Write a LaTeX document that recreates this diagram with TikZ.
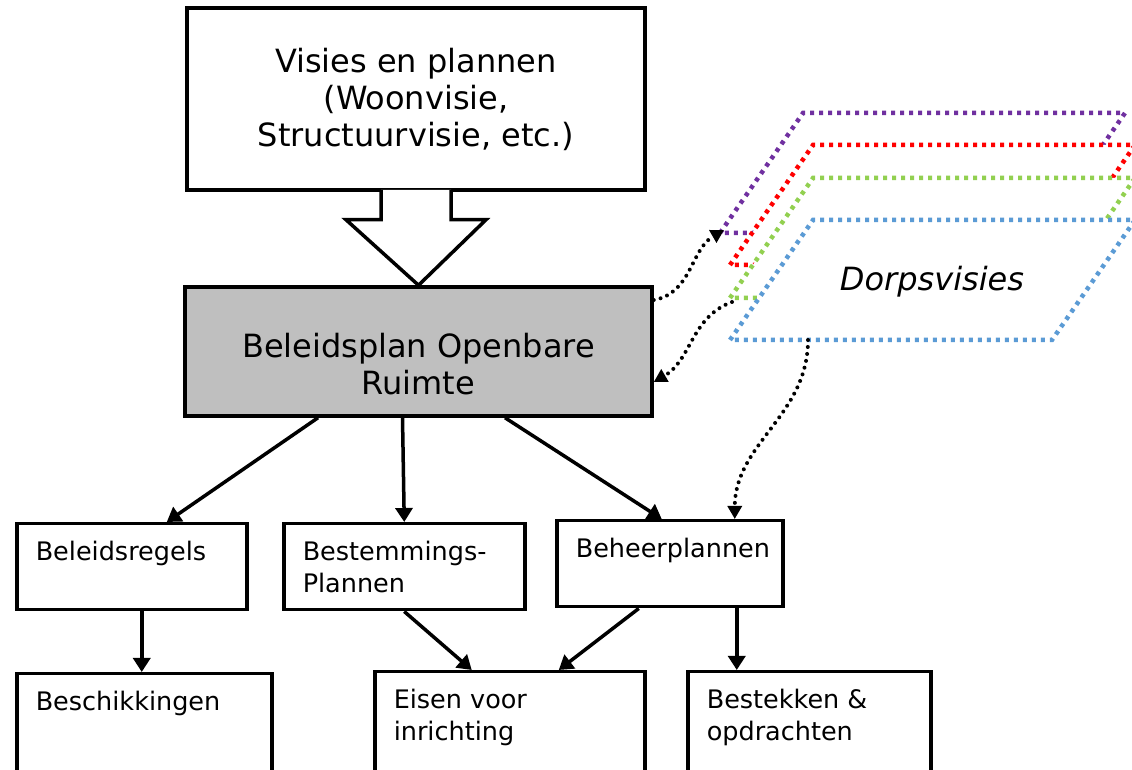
\documentclass[tikz,border=0pt]{standalone}
\usepackage{fontspec}
\setmainfont{DejaVu Sans}
\usetikzlibrary{arrows.meta}
\definecolor{paars}{HTML}{7030A0}
\definecolor{rood}{HTML}{FF0000}
\definecolor{groen}{HTML}{92D050}
\definecolor{blauw}{HTML}{5B9BD5}
\definecolor{grijs}{HTML}{BFBFBF}
\newcommand{\groot}{\fontsize{32}{37}\selectfont}
\newcommand{\klein}{\fontsize{25.5}{32}\selectfont}
\newcommand{\boven}[3]{\parbox[t][#2][t]{#1}{#3}}% tekst bovenaan in het vak

\begin{document}
\begin{tikzpicture}[x=1pt,y=1pt,
    vak/.style={draw, line width=3.5pt, align=center, font=\groot},
    klvak/.style={draw, line width=3.5pt, anchor=north west, inner xsep=19pt, inner ysep=17pt, font=\klein},
    pijl/.style={line width=3.5pt, -{Triangle[length=14pt,width=17pt]}},
    stip/.style={line width=4pt, dash pattern=on 0pt off 7pt, line cap=round, -{Triangle[length=13pt,width=14pt]}},
    laag/.style={line width=4.5pt, dash pattern=on 4pt off 5pt, fill=white}]
    \useasboundingbox (0,0) rectangle (1132,770);

    % Vakken
    \node[vak, minimum width=458pt, minimum height=182pt] (visies) at (416,671) {Visies en plannen\\(Woonvisie,\\Structuurvisie, etc.)};
    \node[vak, fill=grijs, minimum width=467pt, minimum height=129pt,
          label={[font=\groot, align=center, yshift=-13pt]center:Beleidsplan Openbare\\Ruimte}] (bor) at (418.5,418.5) {};

    \node[klvak] (regels) at (15,248) {\boven{192pt}{52pt}{Beleidsregels}};
    \node[klvak] (bestem) at (282,248) {\boven{203pt}{52pt}{Bestemmings-\\Plannen}};
    \node[klvak] (beheer) at (555,251) {\boven{188pt}{52pt}{Beheerplannen}};
    \node[klvak] (beschik) at (15,98) {\boven{217pt}{110pt}{Beschikkingen}};
    \node[klvak] (eisen) at (373,100) {\boven{232pt}{110pt}{Eisen voor\\inrichting}};
    \node[klvak] (bestek) at (686,100) {\boven{205pt}{110pt}{Bestekken \&\\opdrachten}};

    % Blokpijl
    \filldraw[line width=3.5pt, fill=white] ([xshift=-35pt,yshift=1.75pt]visies.south) -- ++(0,-29.75) -- ++(-35,0)
        -- (bor.north) -- ([xshift=70pt,yshift=-28pt]visies.south) -- ++(-35,0) -- ++(0,29.75);

    % Pijlen
    \draw[pijl] ([xshift=-100.5pt]bor.south) -- ([xshift=35pt]regels.north);
    \draw[pijl] ([xshift=-16pt]bor.south) -- (bestem.north);
    \draw[pijl] ([xshift=86.5pt]bor.south) -- ([xshift=-8pt]beheer.north);
    \draw[pijl] ([xshift=10pt]regels.south) -- ([xshift=10pt]regels.south |- beschik.north);
    \draw[pijl] (bestem.south) -- ([xshift=-38pt]eisen.north);
    \draw[pijl] ([xshift=-31pt]beheer.south) -- ([xshift=49pt]eisen.north);
    \draw[pijl] ([xshift=67pt]beheer.south) -- ([xshift=67pt]beheer.south |- bestek.north);

    % Lagen
    \foreach \kl/\x/\y in {paars/720/537, rood/730/505, groen/730/472, blauw/730/430}{
        \coordinate (hoek-\kl) at (\x,\y);
        \draw[laag, draw=\kl] (hoek-\kl) -- ++(83,120) -- ++(322,0) -- ++(-83,-120) -- cycle;
    }
    \node[font=\groot\itshape] (dorps) at (932,488) {Dorpsvisies};

    \draw[stip] ([yshift=51.5pt]bor.east) to[out=10,in=210] ([xshift=4pt,yshift=3pt]hoek-paars);
    \draw[stip] ([xshift=2pt,yshift=-4pt]hoek-groen) to[out=200,in=30] ([yshift=-30.5pt]bor.east);
    \draw[stip] ([xshift=78pt]hoek-blauw) to[out=-90,in=90] ([xshift=65pt]beheer.north);
\end{tikzpicture}
\end{document}
